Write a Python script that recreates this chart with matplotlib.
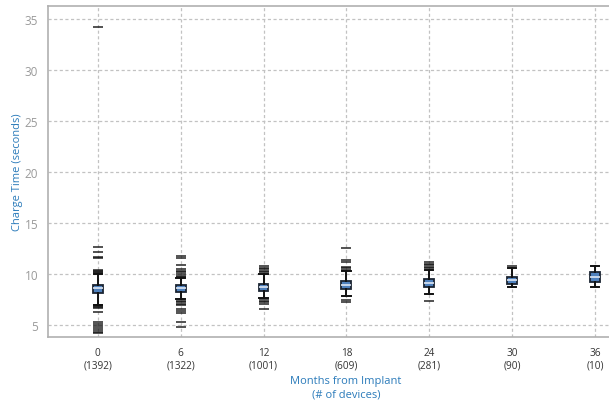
import matplotlib
matplotlib.use("Agg")
import matplotlib.pyplot as plt

plt.rcParams["font.family"] = ["Open Sans", "DejaVu Sans"]

months = ["0", "6", "12", "18", "24", "30", "36"]
devices = [1392, 1322, 1001, 609, 281, 90, 10]

q1 = [8.16, 8.20, 8.35, 8.52, 8.75, 9.01, 9.24]
med = [8.59, 8.59, 8.69, 8.91, 9.14, 9.41, 9.67]
q3 = [8.94, 8.92, 9.01, 9.28, 9.51, 9.73, 10.23]
whis_lo = [7.00, 7.50, 7.62, 7.80, 8.03, 8.69, 8.75]
whis_hi = [10.00, 9.60, 10.00, 10.27, 10.42, 10.56, 10.82]

fliers = [
    [34.2, 12.63, 12.14, 11.7, 11.6, 10.1, 10.2, 10.3, 10.4,
     6.95, 6.85, 6.75, 6.65, 6.3, 5.3, 5.1, 4.9, 4.7, 4.5, 4.3, 4.2],
    [11.75, 11.55, 10.9, 9.7, 9.85, 10.0, 10.15, 10.3, 10.45,
     7.4, 7.25, 7.1, 6.95, 6.6, 6.4, 6.2, 5.33, 4.8],
    [10.15, 10.3, 10.45, 10.6, 10.8, 7.55, 7.4, 7.25, 7.05, 6.55],
    [12.53, 11.41, 11.15, 10.4, 10.55, 10.7, 7.47, 7.27],
    [10.55, 10.7, 10.85, 11.0, 11.15, 7.37],
    [10.82],
    [],
]

stats = []
for i in range(len(months)):
    stats.append({
        "label": f"{months[i]}\n({devices[i]})",
        "q1": q1[i],
        "med": med[i],
        "q3": q3[i],
        "whislo": whis_lo[i],
        "whishi": whis_hi[i],
        "fliers": fliers[i],
    })

fig = plt.figure(figsize=(6.09, 4.06), dpi=100)
# right side of the frame runs past the image edge, as in the original
ax = fig.add_axes([0.0788, 0.1675, 0.98, 0.8153])

ax.bxp(
    stats,
    positions=range(len(months)),
    widths=0.12,
    patch_artist=True,
    boxprops=dict(facecolor="#4f81bd", edgecolor="#1b2533", linewidth=1.3),
    medianprops=dict(color="#dfe8f5", linewidth=1.2),
    whiskerprops=dict(color="#111111", linewidth=1.4),
    capprops=dict(color="#111111", linewidth=1.4),
    capwidths=0.1,
    flierprops=dict(marker="_", markersize=7, markeredgewidth=1.2,
                    markeredgecolor="#111111", alpha=0.85),
    zorder=3,
)

ax.set_xlim(-0.6, 6.6)
ax.set_ylim(3.82, 36.3)
ax.set_yticks([5, 10, 15, 20, 25, 30, 35])

ax.grid(True, linestyle=(0, (2.5, 2)), color="#c2c2c2", linewidth=0.9)
ax.set_axisbelow(True)

for side in ["top", "left", "bottom", "right"]:
    ax.spines[side].set_color("#b0b0b0")
    ax.spines[side].set_linewidth(1.2)

ax.tick_params(axis="y", length=0, pad=7, labelsize=8.5, labelcolor="#9a9a9a")
ax.tick_params(axis="x", length=0, pad=7, labelsize=7.2, labelcolor="#333333")

ax.set_ylabel("Charge Time (seconds)", fontsize=8, color="#2b7bba", labelpad=1)
ax.set_xlabel("Months from Implant\n(# of devices)", fontsize=8, color="#2b7bba",
              linespacing=1.3)
ax.xaxis.set_label_coords((346 - 48) / (0.98 * 609), -0.115)

fig.savefig("out.png", dpi=100)
